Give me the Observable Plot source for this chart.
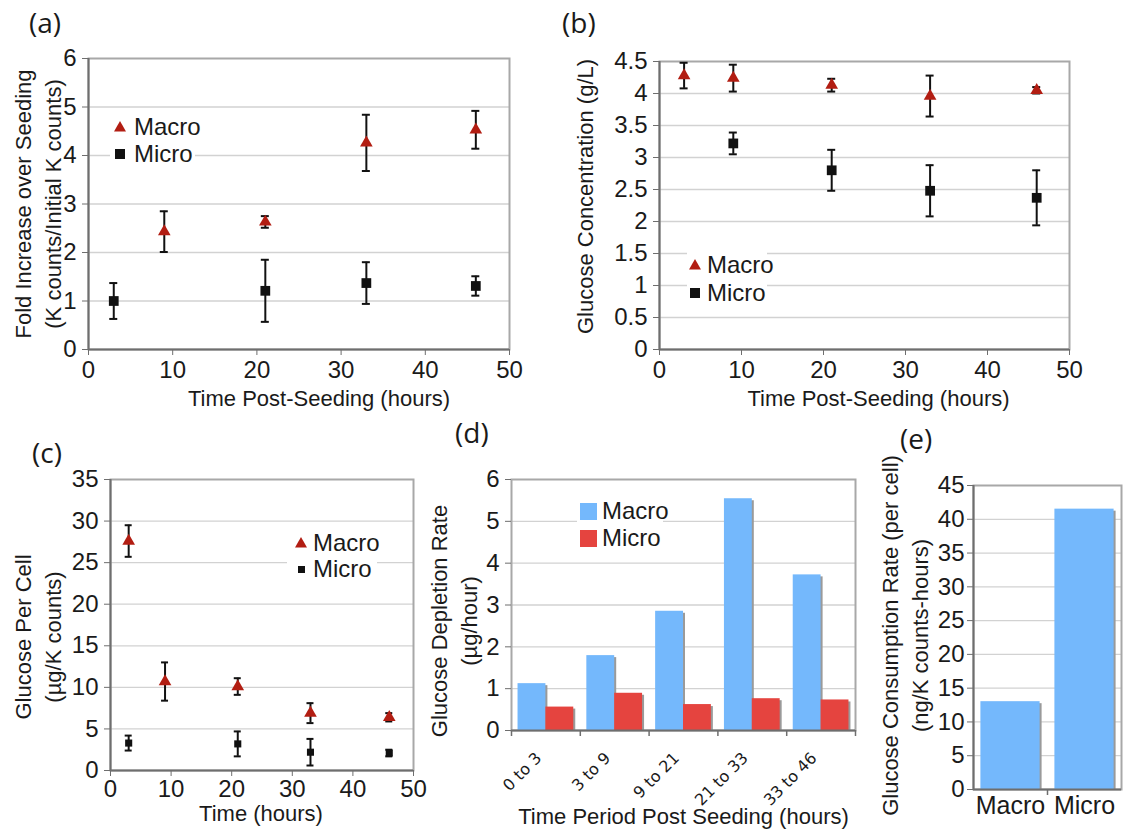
<!DOCTYPE html>
<html>
<head>
<meta charset="utf-8">
<script src="https://cdn.jsdelivr.net/npm/d3@7"></script>
<script src="https://cdn.jsdelivr.net/npm/@observablehq/plot@0.6"></script>
<style>
  html, body { margin: 0; padding: 0; background: #fff; }
  #root { position: relative; width: 1124px; height: 830px; overflow: hidden; background: #fff; }
  .panel { position: absolute; }
  .panel svg { overflow: visible; }
  .plabel { position: absolute; font-family: "Open Sans", sans-serif; font-size: 28px; line-height: 28px; color: #1a1a1a; }
  .lg { position: absolute; font-family: "Liberation Sans Narrow", "Arial Narrow", "Liberation Sans", sans-serif; font-size: 24px; line-height: 26px; color: #1a1a1a; white-space: nowrap; }
  .lgbox { position: absolute; background: #fff; }
  .sym { position: absolute; }
</style>
</head>
<body>
<div id="root"></div>
<script>
// ---------------- data ----------------
// (a) fold increase over seeding
const aMacroTime = [9, 21, 33, 46];
const aMacroMean = [2.43, 2.63, 4.26, 4.53];
const aMacroErr  = [0.42, 0.12, 0.58, 0.39];
const aMicroTime = [3, 21, 33, 46];
const aMicroMean = [1.0, 1.21, 1.37, 1.31];
const aMicroErr  = [0.37, 0.64, 0.43, 0.2];
const aYTicks = [0, 1, 2, 3, 4, 5, 6];

// (b) glucose concentration (g/L)
const bMacroTime = [3, 9, 21, 33, 46];
const bMacroMean = [4.28, 4.24, 4.13, 3.96, 4.05];
const bMacroErr  = [0.2, 0.21, 0.1, 0.32, 0.05];
const bMicroTime = [9, 21, 33, 46];
const bMicroMean = [3.22, 2.8, 2.48, 2.37];
const bMicroErr  = [0.17, 0.32, 0.4, 0.43];
const bYTicks = [0, 0.5, 1, 1.5, 2, 2.5, 3, 3.5, 4, 4.5];

// (c) glucose per cell (µg/K counts)
const cMacroTime = [3, 9, 21, 33, 46];
const cMacroMean = [27.6, 10.7, 10.1, 6.9, 6.4];
const cMacroErr  = [1.9, 2.3, 1.0, 1.2, 0.5];
const cMicroTime = [3, 21, 33, 46];
const cMicroMean = [3.3, 3.2, 2.2, 2.1];
const cMicroErr  = [0.9, 1.5, 1.6, 0.4];
const cYTicks = [0, 5, 10, 15, 20, 25, 30, 35];

const timeTicks = [0, 10, 20, 30, 40, 50];

// (d) glucose depletion rate (µg/hour)
const periods = ["0 to 3", "3 to 9", "9 to 21", "21 to 33", "33 to 46"];
const dMacro = [1.12, 1.79, 2.85, 5.54, 3.72];
const dMicro = [0.56, 0.89, 0.62, 0.76, 0.73];
const dYTicks = [0, 1, 2, 3, 4, 5, 6];

// (e) glucose consumption rate per cell (ng/K counts-hours)
const groups = ["Macro", "Micro"];
const eRate = [13.0, 41.5];
const eYTicks = [0, 5, 10, 15, 20, 25, 30, 35, 40, 45];

const seriesNames = ["Macro", "Micro"];

// ---------------- style ----------------
const NARROW = '"Liberation Sans Narrow","Arial Narrow","Liberation Sans",sans-serif';
const SANS = '"Liberation Sans",Arial,sans-serif';
const RED_MARK = "#b21d12";
const BLUE = "#74b8fc";
const RED = "#e5443f";
const GRID = "#d2d2d2";
const FRAME = "#a8a8a8";
const AXIS = "#6e6e6e";

const root = document.getElementById("root");

function rows(ts, ms, es) { return ts.map((t, i) => ({t, m: ms[i], e: es[i]})); }

function place(node, left, top) {
  const d = document.createElement("div");
  d.className = "panel";
  d.style.left = left + "px";
  d.style.top = top + "px";
  d.appendChild(node);
  root.appendChild(d);
}

function yLabelMark(text, dx, dy) {
  return Plot.text([text], {
    text: d => d, frameAnchor: "left", rotate: -90, dx, dy,
    fontFamily: SANS, fontSize: 22, lineHeight: 1.36, textAnchor: "middle", lineAnchor: "middle", fill: "#1a1a1a"
  });
}
function xLabelMark(text, dx, dy) {
  return Plot.text([text], {
    text: d => d, frameAnchor: "bottom", dx, dy,
    fontFamily: SANS, fontSize: 22, textAnchor: "middle", lineAnchor: "middle", fill: "#1a1a1a"
  });
}

function scatter(cfg) {
  const macro = rows(cfg.macro[0], cfg.macro[1], cfg.macro[2]);
  const micro = rows(cfg.micro[0], cfg.micro[1], cfg.micro[2]);
  const yMin = cfg.yTicks[0], yMax = cfg.yTicks[cfg.yTicks.length - 1];
  const err = (data) => [
    Plot.ruleX(data, {x: "t", y1: d => d.m - d.e, y2: d => d.m + d.e, stroke: "#111", strokeWidth: 2}),
    Plot.ruleY(data, {y: d => d.m + d.e, x1: "t", x2: "t", insetLeft: -cfg.cap, insetRight: -cfg.cap, stroke: "#111", strokeWidth: 2}),
    Plot.ruleY(data, {y: d => d.m - d.e, x1: "t", x2: "t", insetLeft: -cfg.cap, insetRight: -cfg.cap, stroke: "#111", strokeWidth: 2})
  ];
  return Plot.plot({
    width: cfg.width, height: cfg.height,
    marginLeft: cfg.ml, marginRight: cfg.mr, marginTop: cfg.mt, marginBottom: cfg.mb,
    x: {domain: [0, 50]},
    y: {domain: [yMin, yMax]},
    style: {background: "transparent", color: "#1a1a1a", overflow: "visible"},
    marks: [
      Plot.gridY(cfg.yTicks.slice(1, -1), {stroke: GRID, strokeOpacity: 1, strokeWidth: 1.3}),
      Plot.frame({stroke: FRAME, strokeWidth: 2}),
      Plot.ruleX([0], {stroke: AXIS, strokeWidth: 2}),
      Plot.ruleY([yMin], {stroke: AXIS, strokeWidth: 2}),
      Plot.axisY(cfg.yTicks, {tickSize: 6, tickPadding: cfg.yPad, tickFormat: d => String(d), label: null,
        fontFamily: NARROW, fontSize: 24, stroke: AXIS}),
      Plot.axisX(timeTicks, {tickSize: 6, tickPadding: cfg.xPad, tickFormat: d => String(d), label: null,
        fontFamily: NARROW, fontSize: 24, stroke: AXIS}),
      ...err(macro),
      Plot.dot(macro, {x: "t", y: "m", symbol: "triangle", fill: RED_MARK, r: cfg.triR}),
      ...err(micro),
      Plot.dot(micro, {x: "t", y: "m", symbol: "square", fill: "#111", r: cfg.sqR}),
      yLabelMark(cfg.yLabel, cfg.yDx, cfg.yDy),
      xLabelMark(cfg.xLabel, cfg.xDx, cfg.xDy)
    ]
  });
}

// (a)
place(scatter({
  width: 540, height: 420, ml: 88, mr: 31, mt: 58, mb: 71,
  macro: [aMacroTime, aMacroMean, aMacroErr], micro: [aMicroTime, aMicroMean, aMicroErr],
  yTicks: aYTicks, cap: 4, triR: 4.7, sqR: 5.5, yPad: 6, xPad: 5,
  yLabel: "Fold Increase over Seeding\n(K counts/Initial K counts)", yDx: -52, yDy: 0,
  xLabel: "Time Post-Seeding (hours)", xDx: 20, xDy: 49
}), 0, 0);

// (b)
place(scatter({
  width: 564, height: 420, ml: 99, mr: 55, mt: 61, mb: 71,
  macro: [bMacroTime, bMacroMean, bMacroErr], micro: [bMicroTime, bMicroMean, bMicroErr],
  yTicks: bYTicks, cap: 4, triR: 4.7, sqR: 5.5, yPad: 6, xPad: 5,
  yLabel: "Glucose Concentration (g/L)", yDx: -76, yDy: -9,
  xLabel: "Time Post-Seeding (hours)", xDx: 14, xDy: 49
}), 560, 0);

// (c)
place(scatter({
  width: 440, height: 410, ml: 110, mr: 27, mt: 59, mb: 60,
  macro: [cMacroTime, cMacroMean, cMacroErr], micro: [cMicroTime, cMicroMean, cMicroErr],
  yTicks: cYTicks, cap: 3.5, triR: 4.7, sqR: 4, yPad: 6, xPad: 3,
  yLabel: "Glucose Per Cell\n(\u00b5g/K counts)", yDx: -74, yDy: 12,
  xLabel: "Time (hours)", xDx: -1, xDy: 43
}), 0, 420);

// (d)
{
  const W = 450, H = 410, ml = 91, mr = 15, mt = 59, mb = 100;
  const pin = 0.19;
  const step = (W - ml - mr) / periods.length;
  const half = step * (1 - pin) / 2;
  const macro = periods.map((p, i) => ({p, v: dMacro[i], s: seriesNames[0]}));
  const micro = periods.map((p, i) => ({p, v: dMicro[i], s: seriesNames[1]}));
  const plot = Plot.plot({
    width: W, height: H, marginLeft: ml, marginRight: mr, marginTop: mt, marginBottom: mb,
    x: {domain: periods, paddingInner: pin, paddingOuter: pin / 2, round: false},
    y: {domain: [0, 6]},
    style: {background: "transparent", color: "#1a1a1a", overflow: "visible"},
    marks: [
      Plot.gridY(dYTicks.slice(1, -1), {stroke: GRID, strokeOpacity: 1, strokeWidth: 1.3}),
      Plot.frame({stroke: FRAME, strokeWidth: 2}),
      Plot.barY(macro, {x: "p", y: "v", fill: "#9a9a9a", insetLeft: 2, insetRight: half - 2, insetTop: 2}),
      Plot.barY(micro, {x: "p", y: "v", fill: "#9a9a9a", insetLeft: half + 2, insetRight: -2, insetTop: 2}),
      Plot.barY(macro, {x: "p", y: "v", fill: BLUE, insetRight: half}),
      Plot.barY(micro, {x: "p", y: "v", fill: RED, insetLeft: half}),
      Plot.ruleX(periods, {x: d => d, y1: 0, y2: 0, dx: -step / 2, insetBottom: -6, stroke: AXIS, strokeWidth: 1.5}),
      Plot.ruleX(periods.slice(-1), {x: d => d, y1: 0, y2: 0, dx: step / 2, insetBottom: -6, stroke: AXIS, strokeWidth: 1.5}),
      Plot.ruleY([0], {stroke: AXIS, strokeWidth: 2}),
      Plot.axisY(dYTicks, {tickSize: 6, tickPadding: 6, tickFormat: d => String(d), label: null,
        fontFamily: NARROW, fontSize: 24, stroke: AXIS}),
      Plot.axisX({tickSize: 0, tickPadding: 20, tickRotate: -45, label: null, dx: -7, dy: 5,
        fontFamily: '"DejaVu Sans",Verdana,sans-serif', fontSize: 16}),
      yLabelMark("Glucose Depletion Rate\n(\u00b5g/hour)", -59, 16),
      xLabelMark("Time Period Post Seeding (hours)", 0, 86)
    ]
  });
  place(plot, 420, 420);
}

// (e)
{
  const W = 264, H = 410, ml = 113, mr = 3, mt = 65, mb = 41;
  const pin = 0.2;
  const step = (W - ml - mr) / groups.length;
  const data = groups.map((g, i) => ({g, v: eRate[i]}));
  const plot = Plot.plot({
    width: W, height: H, marginLeft: ml, marginRight: mr, marginTop: mt, marginBottom: mb,
    x: {domain: groups, paddingInner: pin, paddingOuter: pin / 2, round: false},
    y: {domain: [0, 45]},
    style: {background: "transparent", color: "#1a1a1a", overflow: "visible"},
    marks: [
      Plot.gridY(eYTicks.slice(1, -1), {stroke: GRID, strokeOpacity: 1, strokeWidth: 1.3}),
      Plot.frame({stroke: FRAME, strokeWidth: 2}),
      Plot.barY(data, {x: "g", y: "v", fill: "#9a9a9a", insetLeft: 2, insetRight: -2, insetTop: 2}),
      Plot.barY(data, {x: "g", y: "v", fill: BLUE}),
      Plot.ruleX(groups.slice(1), {x: d => d, y1: 0, y2: 0, dx: -step / 2, insetBottom: -6, stroke: AXIS, strokeWidth: 1.5}),
      Plot.ruleY([0], {stroke: AXIS, strokeWidth: 2}),
      Plot.ruleX([groups[0]], {x: d => d, dx: -step / 2, stroke: AXIS, strokeWidth: 2}),
      Plot.axisY(eYTicks, {tickSize: 6, tickPadding: 3, tickFormat: d => String(d), label: null,
        fontFamily: NARROW, fontSize: 24, stroke: AXIS}),
      Plot.axisX({tickSize: 0, tickPadding: 7, label: null, fontFamily: NARROW, fontSize: 25}),
      yLabelMark("Glucose Consumption Rate (per cell)\n(ng/K counts-hours)", -70, -2)
    ]
  });
  place(plot, 860, 420);
}

// ---------------- panel letters ----------------
[["(a)", 29, 8], ["(b)", 562, 8], ["(c)", 32, 438], ["(d)", 455, 418], ["(e)", 900, 424]].forEach(([t, x, y]) => {
  const d = document.createElement("div");
  d.className = "plabel";
  d.textContent = t;
  d.style.left = x + "px";
  d.style.top = y + "px";
  root.appendChild(d);
});

// ---------------- legends (inside plots) ----------------
function legend(box, items) {
  const b = document.createElement("div");
  b.className = "lgbox";
  Object.assign(b.style, {left: box[0] + "px", top: box[1] + "px", width: box[2] + "px", height: box[3] + "px"});
  root.appendChild(b);
  items.forEach(it => {
    const s = it.size;
    let shape;
    if (it.kind === "tri") shape = `<path d="M${s/2},0 L${s},${s*0.88} L0,${s*0.88} Z" fill="${it.color}"/>`;
    else shape = `<rect x="0" y="0" width="${s}" height="${s}" fill="${it.color}"/>`;
    const sv = document.createElement("div");
    sv.className = "sym";
    sv.innerHTML = `<svg width="${s}" height="${s}" style="display:block">${shape}</svg>`;
    sv.style.left = (it.sx - s / 2) + "px";
    sv.style.top = (it.sy - s / 2) + "px";
    root.appendChild(sv);
    const t = document.createElement("div");
    t.className = "lg";
    t.textContent = it.label;
    t.style.left = it.tx + "px";
    t.style.top = (it.ty - 13) + "px";
    root.appendChild(t);
  });
}
legend([110, 112, 85, 58], [
  {kind: "tri", color: RED_MARK, size: 12, sx: 120, sy: 127, label: seriesNames[0], tx: 134, ty: 127},
  {kind: "sq", color: "#111", size: 10, sx: 120, sy: 154, label: seriesNames[1], tx: 134, ty: 154}
]);
legend([687, 249, 80, 58], [
  {kind: "tri", color: RED_MARK, size: 12, sx: 695, sy: 265, label: seriesNames[0], tx: 707, ty: 265},
  {kind: "sq", color: "#111", size: 10, sx: 695, sy: 293, label: seriesNames[1], tx: 707, ty: 293}
]);
legend([287, 530, 90, 52], [
  {kind: "tri", color: RED_MARK, size: 12, sx: 301, sy: 543, label: seriesNames[0], tx: 313, ty: 543},
  {kind: "sq", color: "#111", size: 7, sx: 301, sy: 569, label: seriesNames[1], tx: 313, ty: 569}
]);
legend([577, 500, 86, 50], [
  {kind: "sq", color: BLUE, size: 17, sx: 588, sy: 511, label: seriesNames[0], tx: 602, ty: 511},
  {kind: "sq", color: RED, size: 17, sx: 588, sy: 538, label: seriesNames[1], tx: 602, ty: 538}
]);
</script>
</body>
</html>
